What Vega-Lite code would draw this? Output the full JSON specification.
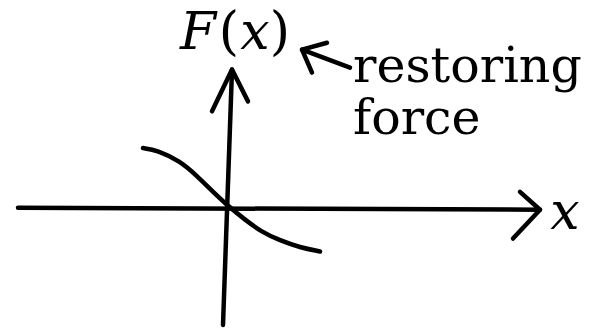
{
  "$schema": "https://vega.github.io/schema/vega-lite/v6.json",
  "width": 594,
  "height": 328,
  "autosize": {"type": "fit", "contains": "padding"},
  "padding": 0,
  "background": "white",
  "config": {"view": {"stroke": null}},
  "datasets": {
    "strokes": [
      {"seg": "xaxis", "i": 0, "x": -213, "y": 1},
      {"seg": "xaxis", "i": 1, "x": 309, "y": -1},
      {"seg": "xhead", "i": 0, "x": 289, "y": 17},
      {"seg": "xhead", "i": 1, "x": 309, "y": -1},
      {"seg": "xhead", "i": 2, "x": 282, "y": -30},
      {"seg": "yaxis", "i": 0, "x": -8, "y": -117},
      {"seg": "yaxis", "i": 1, "x": 1, "y": 140},
      {"seg": "yhead", "i": 0, "x": -19, "y": 98},
      {"seg": "yhead", "i": 1, "x": 1, "y": 140},
      {"seg": "yhead", "i": 2, "x": 17, "y": 108},
      {"seg": "rshaft", "i": 0, "x": 119, "y": 142},
      {"seg": "rshaft", "i": 1, "x": 71, "y": 160},
      {"seg": "rhead", "i": 0, "x": 96, "y": 167},
      {"seg": "rhead", "i": 1, "x": 71, "y": 160},
      {"seg": "rhead", "i": 2, "x": 81, "y": 137}
    ],
    "curve": [
      {"i": 0, "x": -88, "y": 61},
      {"i": 1, "x": -74, "y": 59},
      {"i": 2, "x": -51, "y": 48},
      {"i": 3, "x": -34, "y": 33},
      {"i": 4, "x": -18, "y": 17},
      {"i": 5, "x": -1, "y": 1},
      {"i": 6, "x": 14, "y": -11},
      {"i": 7, "x": 30, "y": -23},
      {"i": 8, "x": 49, "y": -32},
      {"i": 9, "x": 69, "y": -39},
      {"i": 10, "x": 89, "y": -43}
    ],
    "italic": [
      {"t": "F", "x": -33, "y": 161, "s": 52},
      {"t": "x", "x": 24, "y": 161, "s": 52},
      {"t": "x", "x": 334, "y": -20, "s": 52}
    ],
    "upright": [
      {"t": "(", "x": -2, "y": 161},
      {"t": ")", "x": 49, "y": 161}
    ],
    "labels": [
      {"t": "restoring", "x": 122, "y": 128},
      {"t": "force", "x": 122, "y": 75}
    ]
  },
  "layer": [
    {
      "data": {"name": "strokes"},
      "mark": {"type": "line", "color": "black", "strokeWidth": 4.5, "strokeCap": "round", "strokeJoin": "round"},
      "encoding": {
        "x": {"field": "x", "type": "quantitative", "scale": {"domain": [-231, 363], "nice": false, "zero": false}, "axis": null},
        "y": {"field": "y", "type": "quantitative", "scale": {"domain": [-118, 210], "nice": false, "zero": false}, "axis": null},
        "detail": {"field": "seg"},
        "order": {"field": "i", "type": "quantitative"}
      }
    },
    {
      "data": {"name": "curve"},
      "mark": {"type": "line", "color": "black", "strokeWidth": 4.5, "strokeCap": "round", "interpolate": "basis"},
      "encoding": {
        "x": {"field": "x", "type": "quantitative"},
        "y": {"field": "y", "type": "quantitative"},
        "order": {"field": "i", "type": "quantitative"}
      }
    },
    {
      "data": {"name": "italic"},
      "mark": {"type": "text", "font": "DejaVu Serif", "fontStyle": "italic", "align": "center", "baseline": "alphabetic", "color": "black"},
      "encoding": {
        "x": {"field": "x", "type": "quantitative"},
        "y": {"field": "y", "type": "quantitative"},
        "text": {"field": "t"},
        "size": {"field": "s", "type": "quantitative", "scale": null}
      }
    },
    {
      "data": {"name": "upright"},
      "mark": {"type": "text", "font": "DejaVu Serif", "fontSize": 52, "align": "center", "baseline": "alphabetic", "color": "black"},
      "encoding": {
        "x": {"field": "x", "type": "quantitative"},
        "y": {"field": "y", "type": "quantitative"},
        "text": {"field": "t"}
      }
    },
    {
      "data": {"name": "labels"},
      "mark": {"type": "text", "font": "DejaVu Serif", "fontSize": 49, "align": "left", "baseline": "alphabetic", "color": "black"},
      "encoding": {
        "x": {"field": "x", "type": "quantitative"},
        "y": {"field": "y", "type": "quantitative"},
        "text": {"field": "t"}
      }
    }
  ]
}
